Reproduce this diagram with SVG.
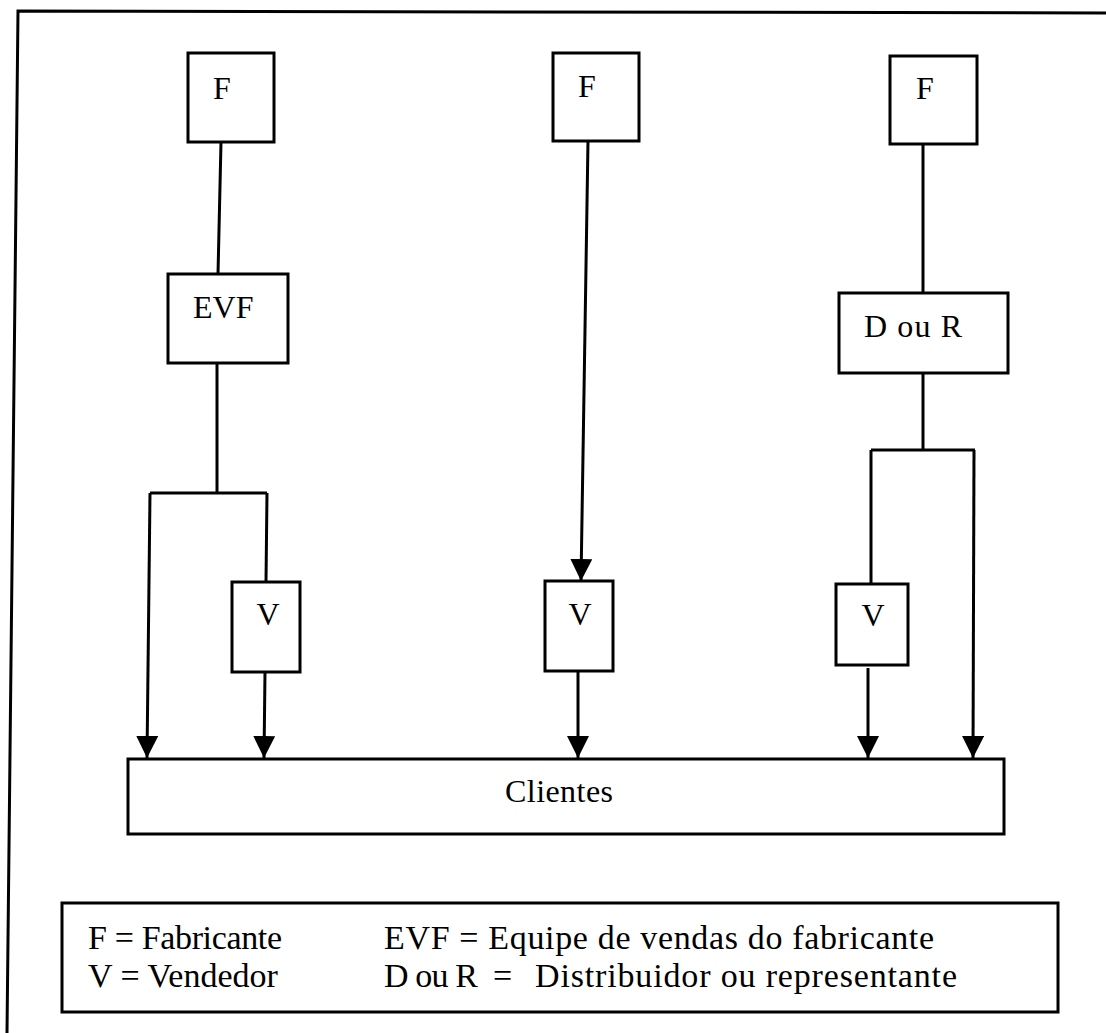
<svg xmlns="http://www.w3.org/2000/svg" width="1106" height="1033" viewBox="0 0 1106 1033">
<style>
.box{fill:#fff;stroke:#000;stroke-width:3}
.ln{fill:none;stroke:#000;stroke-width:3}
.t{font-family:"Liberation Serif","Times New Roman",serif;font-size:32px;fill:#000}
.lg{font-family:"Liberation Serif","Times New Roman",serif;font-size:34px;fill:#000}
</style>
<defs>
<marker id="ah" viewBox="0 0 22 22" refX="22" refY="11" markerWidth="22" markerHeight="22" markerUnits="userSpaceOnUse" orient="auto">
<path d="M0,0 L22,11 L0,22 z" fill="#000"/>
</marker>
</defs>
<rect width="1106" height="1033" fill="#fff"/>
<g id="frame"><polyline class="ln" points="7,1033 18,11 1106,13"/></g>
<g id="connectors">
<line class="ln" x1="221" y1="142" x2="218" y2="274"/>
<line class="ln" x1="217" y1="363" x2="217" y2="493"/>
<line class="ln" x1="150" y1="493" x2="267" y2="493"/>
<line class="ln" x1="150" y1="493" x2="147" y2="758" marker-end="url(#ah)"/>
<line class="ln" x1="267" y1="493" x2="266" y2="582"/>
<line class="ln" x1="265" y1="672" x2="264" y2="758" marker-end="url(#ah)"/>
<line class="ln" x1="588" y1="141" x2="581" y2="581" marker-end="url(#ah)"/>
<line class="ln" x1="578" y1="671" x2="578" y2="758" marker-end="url(#ah)"/>
<line class="ln" x1="923" y1="144" x2="923" y2="293"/>
<line class="ln" x1="923" y1="373" x2="923" y2="450"/>
<line class="ln" x1="871" y1="450" x2="975" y2="450"/>
<line class="ln" x1="871" y1="450" x2="871" y2="584"/>
<line class="ln" x1="974" y1="450" x2="973" y2="758" marker-end="url(#ah)"/>
<line class="ln" x1="868" y1="668" x2="868" y2="758" marker-end="url(#ah)"/>
</g>
<g id="f1"><rect class="box" x="188" y="53" width="86" height="89"/><text class="t" x="213" y="99">F</text></g>
<g id="evf"><rect class="box" x="168" y="274" width="120" height="89"/><text class="t" x="193" y="318">EVF</text></g>
<g id="f2"><rect class="box" x="553" y="53" width="86" height="88"/><text class="t" x="578" y="97">F</text></g>
<g id="f3"><rect class="box" x="890" y="56" width="87" height="88"/><text class="t" x="916" y="99">F</text></g>
<g id="dour"><rect class="box" x="839" y="293" width="169" height="80"/><text class="t" x="864" y="337" textLength="98">D ou R</text></g>
<g id="v1"><rect class="box" x="232" y="582" width="68" height="90"/><text class="t" x="268" y="625" text-anchor="middle">V</text></g>
<g id="v2"><rect class="box" x="545" y="581" width="68" height="90"/><text class="t" x="580" y="625" text-anchor="middle">V</text></g>
<g id="v3"><rect class="box" x="836" y="584" width="72" height="81"/><text class="t" x="873" y="626" text-anchor="middle">V</text></g>
<g id="clientes"><rect class="box" x="128" y="759" width="876" height="75"/><text class="t" x="505" y="802" textLength="108">Clientes</text></g>
<g id="legend">
<rect class="box" x="62" y="903" width="996" height="109"/>
<text class="lg" x="88" y="949" textLength="194">F = Fabricante</text>
<text class="lg" x="88" y="987">V = Vendedor</text>
<text class="lg" x="384" y="949" textLength="550">EVF = Equipe de vendas do fabricante</text>
<text class="lg" x="384" y="987" textLength="94">D ou R</text>
<text class="lg" x="493" y="987">=</text>
<text class="lg" x="535" y="987" textLength="422">Distribuidor ou representante</text>
</g>
</svg>
